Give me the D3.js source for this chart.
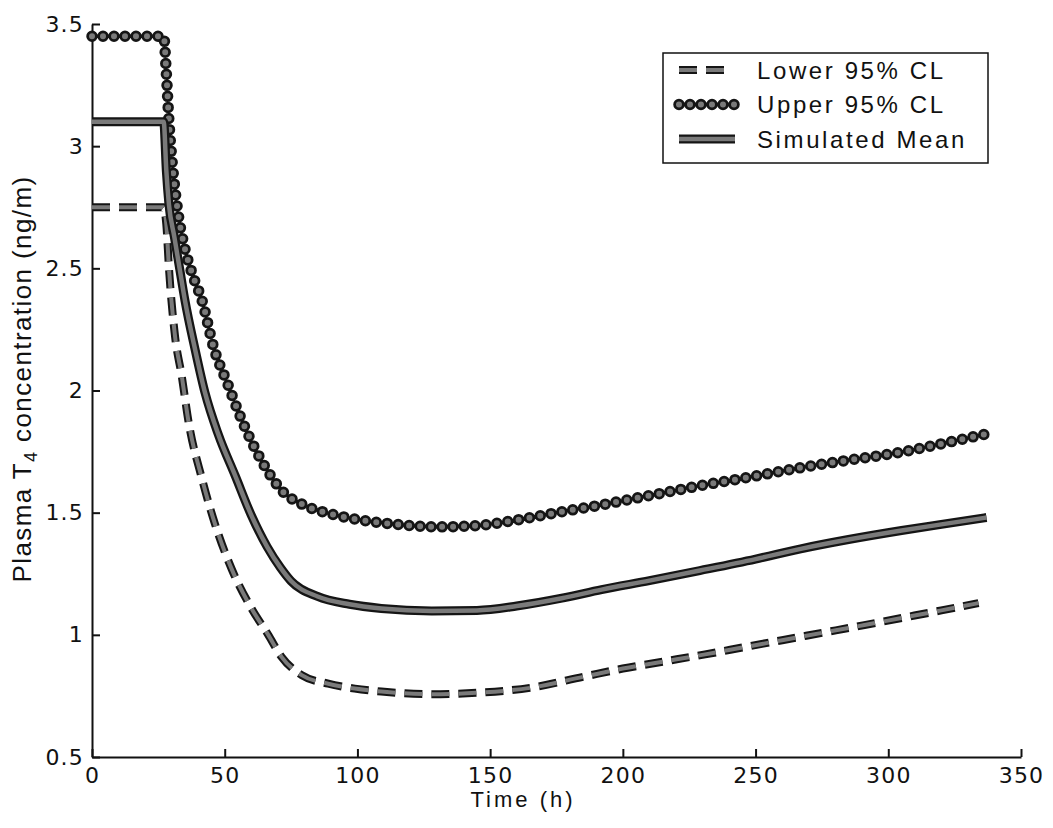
<!DOCTYPE html>
<html>
  <head>
    <title>Plasma T4 concentration</title>
    <meta http-equiv="Content-Type" content="text/html;charset=utf-8">
    <style>
      body { margin: 0; background: #fff; }
      .tick text { font-family: "DejaVu Sans", sans-serif; font-size: 22px; fill: #111; letter-spacing: 1.2px; }
      .domain, .tick line { stroke: #111; stroke-width: 2px; }
      .title { font-family: "Liberation Sans", Arial, sans-serif; fill: #111; }
      .legend text { font-family: "Liberation Sans", Arial, sans-serif; font-size: 24px; letter-spacing: 2.6px; fill: #111; }
    </style>
  </head>
  <body>
    <div id="chart"></div>
    <script src="https://cdn.jsdelivr.net/npm/d3@7"></script>
    <script>
      // values: [time (h), concentration (ng/m)]
      var lowerCL = [[0,2.75],[27,2.75],[28,2.68],[29,2.5],[31.3,2.22],[33.8,2.06],[36.4,1.87],[41.4,1.64],
        [46.3,1.455],[52.6,1.27],[60,1.11],[66.4,1.0],[71.4,0.91],[79,0.835],[89,0.8],[99,0.78],[109,0.768],
        [128,0.757],[145,0.763],[165,0.783],[185,0.828],[200,0.862],[215,0.89],[231,0.92],[245,0.948],
        [260,0.978],[275,1.008],[291,1.04],[308,1.075],[320,1.1],[334,1.13]];
      var upperCL = [[0,3.45],[27,3.45],[28,3.3],[29,3.1],[30.5,2.9],[32.5,2.72],[35,2.58],[38,2.47],
        [41.4,2.37],[46,2.17],[51,2.03],[56,1.89],[64,1.71],[72,1.585],[80,1.53],[90,1.495],[100,1.472],
        [115,1.452],[130,1.442],[145,1.447],[160,1.47],[175,1.5],[192,1.532],[210,1.57],[229,1.61],
        [250,1.65],[267,1.684],[285,1.715],[305,1.748],[320,1.782],[336,1.82]];
      var simMean = [[0,3.1],[27,3.1],[28,2.9],[29,2.76],[31,2.63],[33,2.5],[35,2.37],[38.8,2.17],
        [42.6,1.99],[47.6,1.82],[54,1.65],[60,1.49],[66,1.36],[71,1.275],[75,1.22],[85,1.157],[97,1.125],
        [109,1.108],[128,1.098],[145,1.1],[160,1.118],[177,1.15],[192,1.185],[210,1.222],[229,1.263],
        [250,1.31],[267,1.352],[285,1.39],[305,1.427],[320,1.452],[337,1.48]];

      var xTicks = [0, 50, 100, 150, 200, 250, 300, 350];
      var yTicks = [0.5, 1, 1.5, 2, 2.5, 3, 3.5];
      var seriesNames = ['Lower 95% CL', 'Upper 95% CL', 'Simulated Mean'];

      (function(d3) {
        'use strict';

        var width = 1053, height = 828;
        var plotLeft = 92, plotRight = 1021, plotTop = 24, plotBottom = 757;

        var svg = d3.select('#chart').append('svg')
          .attr('width', width)
          .attr('height', height);

        var x = d3.scaleLinear().domain([0, 350]).range([plotLeft, plotRight]);
        var y = d3.scaleLinear().domain([0.5, 3.5]).range([plotBottom, plotTop]);

        svg.append('g')
          .attr('transform', 'translate(0,' + plotBottom + ')')
          .call(d3.axisBottom(x).tickValues(xTicks).tickSizeInner(-8).tickSizeOuter(0).tickPadding(10)
            .tickFormat(function(d) { return d; }));

        svg.append('g')
          .attr('transform', 'translate(' + plotLeft + ',0)')
          .call(d3.axisLeft(y).tickValues(yTicks).tickSizeInner(-8).tickSizeOuter(0).tickPadding(8)
            .tickFormat(function(d) { return d; }));

        // axis titles
        svg.append('text')
          .attr('class', 'title')
          .attr('x', 523).attr('y', 807)
          .attr('text-anchor', 'middle')
          .style('font-size', '22px')
          .style('letter-spacing', '3px')
          .text('Time (h)');

        var yt = svg.append('text')
          .attr('class', 'title')
          .attr('transform', 'translate(31,379) rotate(-90)')
          .attr('text-anchor', 'middle')
          .style('font-size', '26px')
          .style('letter-spacing', '1.4px');
        yt.append('tspan').text('Plasma T');
        yt.append('tspan').attr('dy', 6).style('font-size', '18px').text('4');
        yt.append('tspan').attr('dy', -6).text(' concentration (ng/m)');

        var line = d3.line()
          .x(function(d) { return x(d[0]); })
          .y(function(d) { return y(d[1]); })
          .curve(d3.curveMonotoneX);

        // two strokes per series: dark edge, grey core
        var styles = [
          { outer: 8, inner: 4, dash: '18 9', cap: 'butt', join: 'miter' },
          { outer: 11.5, inner: 6, dash: '0 11', cap: 'round', join: 'round' },
          { outer: 9, inner: 4.5, dash: null, cap: 'butt', join: 'round' }
        ];
        var series = [lowerCL, upperCL, simMean];

        function drawPath(g, d, s) {
          g.append('path')
            .attr('d', d)
            .attr('fill', 'none')
            .attr('stroke', '#151515')
            .attr('stroke-width', s.outer)
            .attr('stroke-linecap', s.cap)
            .attr('stroke-linejoin', s.join)
            .attr('stroke-dasharray', s.dash);
          g.append('path')
            .attr('d', d)
            .attr('fill', 'none')
            .attr('stroke', '#7a7a7a')
            .attr('stroke-width', s.inner)
            .attr('stroke-linecap', s.cap)
            .attr('stroke-linejoin', s.join)
            .attr('stroke-dasharray', s.dash);
        }

        var plot = svg.append('g');
        series.forEach(function(data, i) {
          drawPath(plot, line(data), styles[i]);
        });

        // legend
        var legend = svg.append('g').attr('class', 'legend');
        legend.append('rect')
          .attr('x', 663).attr('y', 53)
          .attr('width', 325).attr('height', 110)
          .attr('fill', '#fff')
          .attr('stroke', '#111')
          .attr('stroke-width', 1.5);

        seriesNames.forEach(function(name, i) {
          var ly = 70 + i * 34.5;
          var g = legend.append('g');
          drawPath(g, 'M679,' + ly + 'H' + (i === 0 ? 727 : 735), styles[i]);
          g.append('text')
            .attr('x', 757).attr('y', ly)
            .attr('dy', '0.36em')
            .text(name);
        });
      })(window.d3);
    </script>
  </body>
</html>
